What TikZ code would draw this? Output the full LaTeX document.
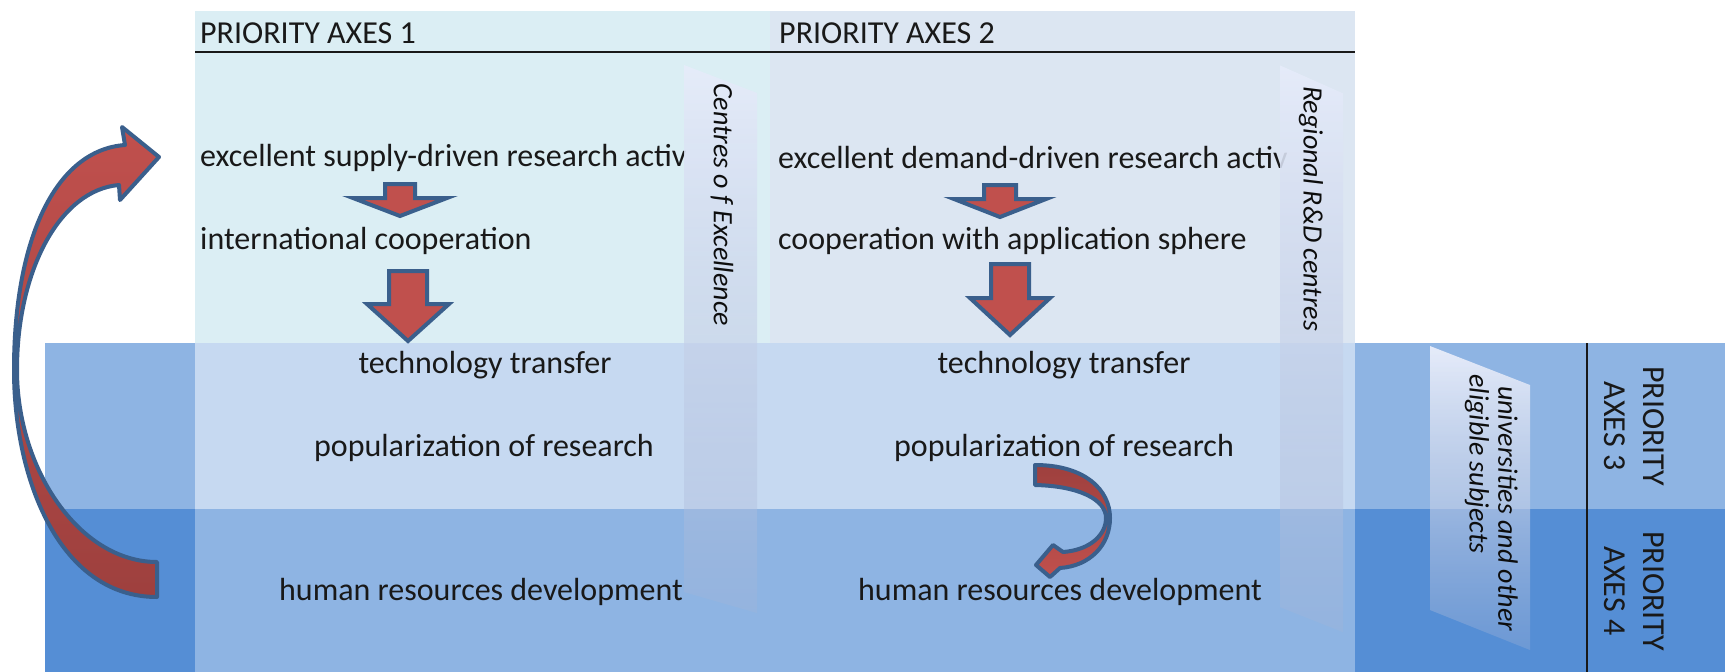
\documentclass[tikz,border=0pt]{standalone}
\usepackage{fontspec}
\setmainfont{Carlito}
\usetikzlibrary{fadings}
\definecolor{paone}{HTML}{DBEEF4}
\definecolor{patwo}{HTML}{DCE6F2}
\definecolor{bandthreeout}{HTML}{8EB4E3}
\definecolor{bandthreein}{HTML}{C6D9F1}
\definecolor{bandfourout}{HTML}{558ED5}
\definecolor{bandfourin}{HTML}{8EB4E3}
\definecolor{arrowred}{HTML}{C0504D}
\definecolor{arrowdark}{HTML}{9E403E}
\definecolor{arrowblue}{HTML}{3A5F8C}
\definecolor{bannertop}{HTML}{E6ECFA}
\definecolor{bannerbot}{HTML}{A4B4D6}
\tikzfading[name=bannerfade, top color=transparent!0, bottom color=transparent!70]
\newcommand\downblock[6]{%
  \draw[blockarrow] (#1-#5,#2) -- (#1+#5,#2) -- (#1+#5,#3) -- (#1+#6,#3) -- (#1,#4) -- (#1-#6,#3) -- (#1-#5,#3) -- cycle;}
\newcommand\bannershape[6]{%
  \shade[bannerbox] (#1,#3) -- (#2,#4) -- (#2,#6) -- (#1,#5) -- cycle;}
\begin{document}
\begin{tikzpicture}[x=1pt,y=-1pt,
  lbl/.style={inner sep=0pt, font=\fontsize{32}{39}\selectfont, text=black!90},
  bannertext/.style={inner sep=0pt, font=\fontsize{28}{31}\selectfont\itshape, text=black!95, rotate=-90, anchor=west},
  blockarrow/.style={fill=arrowred, draw=arrowblue, line width=4pt},
  curvearrow/.style={draw=arrowblue, line width=4pt, line join=round},
  bannerbox/.style={top color=bannertop, bottom color=bannerbot, path fading=bannerfade}]

\useasboundingbox (0,0) rectangle (1725,672);
\fill[white] (0,0) rectangle (1725,672);

% bands
\fill[bandthreeout] (45,343) rectangle (1725,509);
\fill[bandfourout] (45,509) rectangle (1725,672);
\fill[bandthreein] (195,343) rectangle (1355,509);
\fill[bandfourin] (195,509) rectangle (1355,672);
% top panels
\fill[paone] (195,11) rectangle (770,343);
\fill[patwo] (770,11) rectangle (1355,343);

% header line and right separator
\draw[line width=1.5pt, black!90] (195,52) -- (1355,52);
\draw[line width=1.8pt, black!90] (1587,343) -- (1587,672);

% headers
\node[lbl, anchor=west] (hone) at (200,33) {PRIORITY AXES 1};
\node[lbl, anchor=west] (htwo) at (779,33) {PRIORITY AXES 2};
\node[lbl, rotate=-90, align=center] (hthree) at (1634,426) {PRIORITY\\AXES 3};
\node[lbl, rotate=-90, align=center] (hfour) at (1634,591) {PRIORITY\\AXES 4};

% PA1 texts
\node[lbl, anchor=west] (supply) at (200,158) {excellent supply-driven research activ};
\node[lbl, anchor=west] (intl) at (200,241) {international cooperation};
\node[lbl] (ttone) at (485,365) {technology transfer};
\node[lbl] (popone) at (484,448) {popularization of research};
\node[lbl] (hrone) at (481,592) {human resources development};

% PA2 texts
\node[lbl, anchor=west] (demand) at (778,158) {excellent demand-driven research activ};
\node[lbl, anchor=west] (appl) at (778,241) {cooperation with application sphere};
\node[lbl] (tttwo) at (1064,365) {technology transfer};
\node[lbl] (poptwo) at (1064,448) {popularization of research};
\node[lbl] (hrtwo) at (1060,592) {human resources development};

% straight block arrows
\downblock{400}{184}{198}{216}{15}{47}
\downblock{408}{271}{304}{341}{19}{41}
\downblock{1000}{185}{199}{217}{16}{46}
\downblock{1010}{264}{298}{335}{19}{40}

% banners
\bannershape{684}{757}{65}{93}{592}{613}
\bannershape{1280}{1343}{65}{93}{607}{632}
\bannershape{1430}{1530}{346}{385}{610}{650}
\node[bannertext] (coe) at (722,83) {Centres o f Excellence};
\node[bannertext] (rrd) at (1311,86) {Regional R\&D centres};
\node[bannertext] (univa) at (1508,386) {universities and other};
\node[bannertext] (univb) at (1477,374) {eligible subjects};

% big curved arrow on the left
\shadedraw[curvearrow, top color=arrowred, bottom color=arrowdark]
  (157,562) -- (157,597) .. controls (60,597) and (14,480) .. (14,370)
  .. controls (14,240) and (55,150) .. (125,145) -- (122,127) -- (159,157)
  -- (120,200) -- (119,185) .. controls (60,190) and (17,270) .. (17,370)
  .. controls (17,470) and (80,562) .. (157,562) -- cycle;

% small curved arrow in PA2
\shadedraw[curvearrow, top color=arrowdark, bottom color=arrowred]
  (1035,465) .. controls (1085,465) and (1110,490) .. (1110,518)
  .. controls (1110,545) and (1090,566) .. (1060,568) -- (1050,577) -- (1036,565)
  -- (1053,545) -- (1063,552) .. controls (1090,550) and (1106,535) .. (1106,518)
  .. controls (1106,500) and (1080,486) .. (1035,485) -- cycle;
\end{tikzpicture}
\end{document}
